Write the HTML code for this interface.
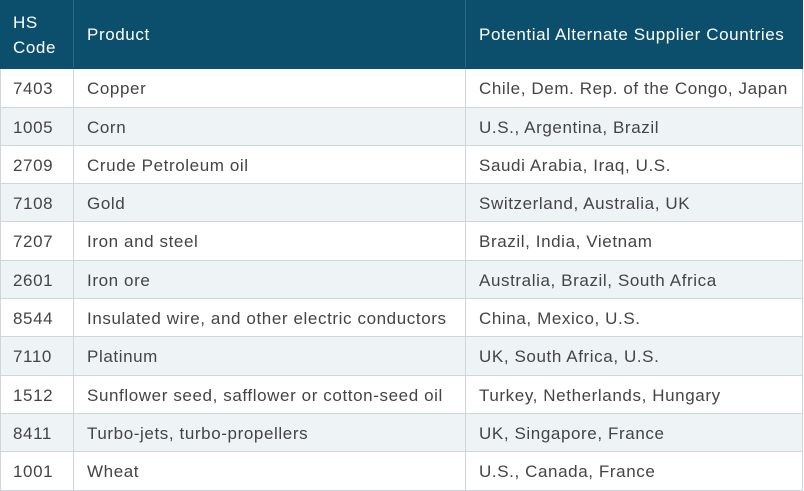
<!DOCTYPE html>
<html><head><style>
body{margin:0;width:804px;height:491px;background:#fff;overflow:hidden;font-family:"Liberation Sans",sans-serif;}
.r{position:absolute;left:0;width:803px;border-left:1px solid #cfd6da;border-right:1px solid #cfd6da;border-bottom:1px solid #cfd6da;box-sizing:border-box;}
.c{position:absolute;top:0;height:100%;display:flex;align-items:center;font-size:17px;letter-spacing:0.6px;color:#444;white-space:nowrap;padding-top:2px;box-sizing:border-box;}
.a{left:12px}.b{left:72px;border-left:1px solid #cfd6da;padding-left:13px}.d{left:464px;border-left:1px solid #cfd6da;padding-left:13px}
.h{background:#0b4f6c;border-color:#0b4f6c}
.h .c{color:#fff;border-color:#2a6a85}
.h .a{line-height:25px}
.alt{background:#eef3f6}
</style></head><body>
<div class="r h" style="top:0;height:69px"><div class="c a">HS<br>Code</div><div class="c b">Product</div><div class="c d">Potential Alternate Supplier Countries</div></div>
<div class="r" style="top:69px;height:39px"><div class="c a">7403</div><div class="c b">Copper</div><div class="c d">Chile, Dem. Rep. of the Congo, Japan</div></div>
<div class="r alt" style="top:108px;height:38px"><div class="c a">1005</div><div class="c b">Corn</div><div class="c d">U.S., Argentina, Brazil</div></div>
<div class="r" style="top:146px;height:38px"><div class="c a">2709</div><div class="c b">Crude Petroleum oil</div><div class="c d">Saudi Arabia, Iraq, U.S.</div></div>
<div class="r alt" style="top:184px;height:38px"><div class="c a">7108</div><div class="c b">Gold</div><div class="c d">Switzerland, Australia, UK</div></div>
<div class="r" style="top:222px;height:39px"><div class="c a">7207</div><div class="c b">Iron and steel</div><div class="c d">Brazil, India, Vietnam</div></div>
<div class="r alt" style="top:261px;height:38px"><div class="c a">2601</div><div class="c b">Iron ore</div><div class="c d">Australia, Brazil, South Africa</div></div>
<div class="r" style="top:299px;height:38px"><div class="c a">8544</div><div class="c b">Insulated wire, and other electric conductors</div><div class="c d">China, Mexico, U.S.</div></div>
<div class="r alt" style="top:337px;height:39px"><div class="c a">7110</div><div class="c b">Platinum</div><div class="c d">UK, South Africa, U.S.</div></div>
<div class="r" style="top:376px;height:38px"><div class="c a">1512</div><div class="c b">Sunflower seed, safflower or cotton-seed oil</div><div class="c d">Turkey, Netherlands, Hungary</div></div>
<div class="r alt" style="top:414px;height:38px"><div class="c a">8411</div><div class="c b">Turbo-jets, turbo-propellers</div><div class="c d">UK, Singapore, France</div></div>
<div class="r" style="top:452px;height:39px"><div class="c a">1001</div><div class="c b">Wheat</div><div class="c d">U.S., Canada, France</div></div>
</body></html>
